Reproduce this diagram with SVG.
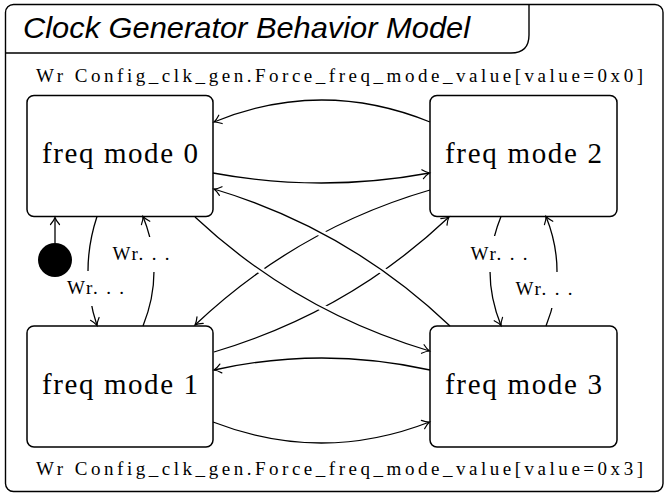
<svg xmlns="http://www.w3.org/2000/svg" width="668" height="494" viewBox="0 0 668 494">
<defs>
<marker id="arr" markerUnits="userSpaceOnUse" orient="auto" refX="0" refY="0" markerWidth="12" markerHeight="12" overflow="visible">
<path d="M-7,-4.5 Q-3,-1 0,0 Q-3,1 -7,4.5" fill="none" stroke="#000" stroke-width="1.2" stroke-linecap="round"/>
</marker>
<style>
.frame{fill:none;stroke:#000;stroke-width:1.4}
.box{fill:none;stroke:#000;stroke-width:1.5}
.edge{fill:none;stroke:#000;stroke-width:1.3;marker-end:url(#arr)}
.under{fill:none;stroke:#fff;stroke-width:7;stroke-dasharray:0 35 205 1000}
.lbl{font-family:"Liberation Serif",serif;font-size:19px;fill:#000;text-anchor:middle}
.lblbg{fill:#fff;stroke:none}
.node{font-family:"Liberation Serif",serif;font-size:29px;fill:#000;text-anchor:middle}
.note{font-family:"Liberation Serif",serif;font-size:19px;fill:#000}
.title{font-family:"Liberation Sans",sans-serif;font-style:italic;font-size:29px;fill:#000}
</style>
</defs>
<rect width="668" height="494" fill="#fff"/>
<g id="frame">
<rect class="frame" x="5.5" y="4.5" width="657.5" height="487" rx="8"/>
<path class="frame" d="M5.5,53 H511 Q529,53 529,35 V4.5"/>
<text class="title" x="23" y="38" textLength="447" lengthAdjust="spacingAndGlyphs">Clock Generator Behavior Model</text>
<text class="note" x="36" y="82" textLength="607" lengthAdjust="spacing">Wr Config_clk_gen.Force_freq_mode_value[value=0x0]</text>
<text class="note" x="36" y="475" textLength="607" lengthAdjust="spacing">Wr Config_clk_gen.Force_freq_mode_value[value=0x3]</text>
</g>
<g id="connectors">
<path class="edge" d="M430,122 Q321.5,78 214,122"/>
<path class="edge" d="M213,173 Q321.5,193 429.5,173"/>
<path class="edge" d="M430,370 Q321.5,346 214,370"/>
<path class="edge" d="M213,422 Q321.5,464 429.5,422"/>
<path class="edge" d="M430,190 Q296.7,228.7 195,325"/>
<path class="edge" d="M214,352 Q348.4,312.2 449,217"/>
<path class="under" d="M195,217 Q295.6,311.3 429.5,351"/>
<path class="edge" d="M195,217 Q295.6,311.3 429.5,351"/>
<path class="under" d="M450,326 Q348.5,229.3 214,189"/>
<path class="edge" d="M450,326 Q348.5,229.3 214,189"/>
<path class="edge" d="M97,216.5 Q79,271 97,325.5"/>
<path class="edge" d="M143,326 Q165,271 143,216.5"/>
<path class="edge" d="M501,216.5 Q479,271 501,325.5"/>
<path class="edge" d="M546,326 Q568,271 546,216.5"/>
<rect class="lblbg" x="67" y="271" width="57" height="35"/>
<text class="lbl" x="95.5" y="294" textLength="57" lengthAdjust="spacing">Wr. . .</text>
<rect class="lblbg" x="112" y="237" width="58" height="35"/>
<text class="lbl" x="141" y="260" textLength="57" lengthAdjust="spacing">Wr. . .</text>
<rect class="lblbg" x="470" y="236" width="58" height="36"/>
<text class="lbl" x="499" y="260" textLength="57" lengthAdjust="spacing">Wr. . .</text>
<rect class="lblbg" x="515" y="272" width="58" height="36"/>
<text class="lbl" x="544" y="295" textLength="57" lengthAdjust="spacing">Wr. . .</text>
<path class="edge" d="M55,243 L55,217.5"/>
</g>
<g id="init">
<circle cx="55" cy="260" r="17" fill="#000"/>
</g>
<g id="mode0">
<rect class="box" x="27" y="95.5" width="186" height="121" rx="7"/>
<text class="node" x="120" y="163" textLength="156" lengthAdjust="spacing">freq mode 0</text>
</g>
<g id="mode2">
<rect class="box" x="430" y="95.5" width="187" height="121" rx="7"/>
<text class="node" x="523.5" y="163" textLength="157" lengthAdjust="spacing">freq mode 2</text>
</g>
<g id="mode1">
<rect class="box" x="27" y="326" width="186" height="121" rx="7"/>
<text class="node" x="120" y="394" textLength="156" lengthAdjust="spacing">freq mode 1</text>
</g>
<g id="mode3">
<rect class="box" x="430" y="326" width="187" height="121" rx="7"/>
<text class="node" x="523.5" y="394" textLength="157" lengthAdjust="spacing">freq mode 3</text>
</g>
</svg>
